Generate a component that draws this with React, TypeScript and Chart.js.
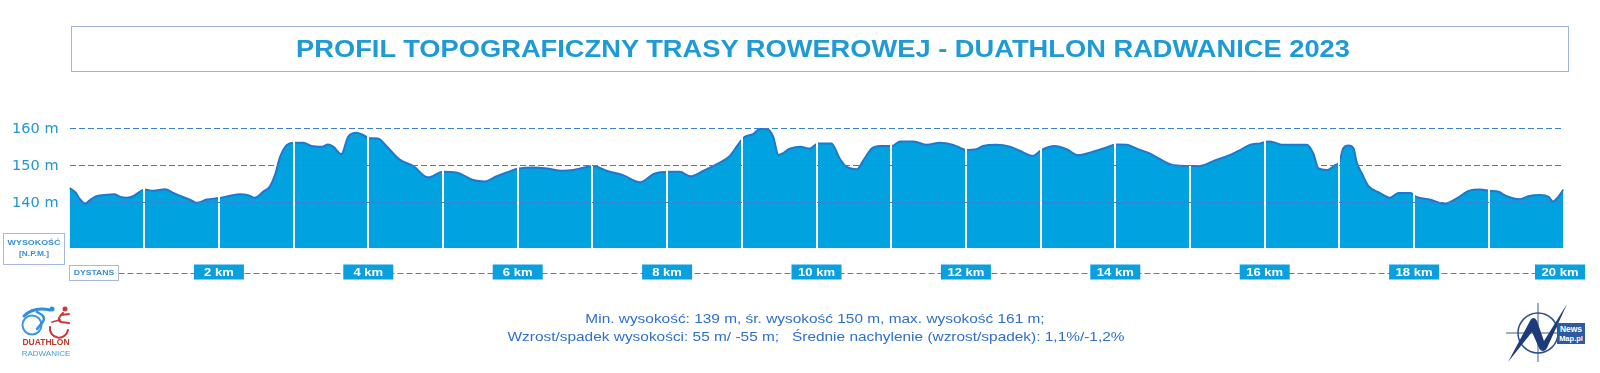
import React, { useEffect, useRef } from 'react';
import { Chart, registerables } from 'chart.js';

Chart.register(...registerables);

// ---------------- DATA ----------------
const distanceKm = [
  0.0, 0.08, 0.14, 0.21, 0.27, 0.36, 0.5, 0.6, 0.68, 0.77, 0.86, 0.94,
  1.0, 1.12, 1.28, 1.39, 1.52, 1.62, 1.7, 1.84,
  2.0, 2.15, 2.28, 2.39, 2.48, 2.59, 2.68, 2.75, 2.82, 2.91,
  3.0, 3.13, 3.24, 3.38, 3.46, 3.53, 3.64, 3.73, 3.84, 3.93,
  4.01, 4.13, 4.25, 4.42, 4.6, 4.8,
  5.0, 5.18, 5.4, 5.56, 5.72, 5.85,
  6.01, 6.21, 6.39, 6.59, 6.74, 6.88,
  7.01, 7.19, 7.41, 7.64, 7.82,
  8.02, 8.17, 8.31, 8.49, 8.66, 8.84, 8.98,
  9.04, 9.15, 9.24, 9.33, 9.42, 9.49, 9.65, 9.78, 9.91,
  10.02, 10.2, 10.31, 10.4, 10.54, 10.63, 10.74, 10.85,
  11.01, 11.12, 11.3, 11.48, 11.65, 11.83,
  12.01, 12.14, 12.23, 12.41, 12.59, 12.72, 12.9,
  13.01, 13.19, 13.35, 13.5, 13.66, 13.84,
  14.02, 14.15, 14.33, 14.46, 14.6, 14.78,
  15.01, 15.13, 15.31, 15.53, 15.67, 15.8, 15.94,
  16.05, 16.14, 16.23, 16.56, 16.65, 16.72, 16.83, 16.94,
  17.0, 17.05, 17.12, 17.19, 17.23, 17.3, 17.39, 17.54, 17.68, 17.79, 17.95,
  18.03, 18.21, 18.41, 18.57, 18.74, 18.88,
  19.01, 19.13, 19.24, 19.42, 19.53, 19.69, 19.8, 19.86, 19.93, 20.0,
];

const elevationM = [
  144.0, 142.8, 141.0, 139.8, 140.7, 141.8, 142.2, 142.3, 141.6, 141.4, 141.9, 143.0,
  143.6, 143.3, 143.7, 142.7, 141.6, 140.8, 140.0, 140.9,
  141.3, 141.9, 142.3, 142.1, 141.4, 143.0, 144.4, 147.5, 152.5, 155.7,
  156.3, 156.3, 155.4, 155.2, 155.8, 155.2, 153.2, 157.9, 159.0, 158.4,
  157.5, 157.4, 155.2, 151.7, 150.0, 146.9,
  148.4, 148.2, 146.2, 145.8, 147.2, 148.2,
  149.3, 149.6, 149.3, 148.7, 148.9, 149.5,
  150.0, 148.7, 147.5, 145.6, 147.8,
  148.4, 148.4, 147.2, 148.7, 150.4, 152.7, 156.6,
  157.9, 158.6, 160.0, 160.0, 157.9, 153.0, 154.7, 155.2, 154.7,
  156.1, 156.1, 152.0, 149.8, 149.1, 151.6, 154.7, 155.4,
  155.4, 156.6, 156.6, 155.7, 156.3, 155.7,
  154.3, 154.5, 155.4, 155.7, 155.2, 154.1, 152.7,
  154.3, 155.4, 154.5, 152.9, 153.6, 154.7,
  155.8, 155.7, 154.3, 153.4, 151.8, 150.2,
  150.0, 150.0, 151.3, 152.9, 154.3, 155.7, 156.1,
  156.6, 156.3, 155.7, 155.7, 153.4, 149.3, 148.9, 150.2,
  151.1, 154.7, 155.5, 154.7, 151.1, 148.0, 144.5, 142.7, 141.4, 142.7, 142.7,
  141.6, 140.9, 139.8, 141.2, 143.3, 143.6,
  143.3, 143.0, 141.8, 141.0, 141.8, 142.1, 141.6, 140.4, 141.6, 143.6,
];

const yTickValues = [140, 150, 160];
const kmGridValues = [1, 2, 3, 4, 5, 6, 7, 8, 9, 10, 11, 12, 13, 14, 15, 16, 17, 18, 19];
const kmLabelValues = [2, 4, 6, 8, 10, 12, 14, 16, 18, 20];
const kmLabelText = ['2 km', '4 km', '6 km', '8 km', '10 km', '12 km', '14 km', '16 km', '18 km', '20 km'];

const titleText = 'PROFIL TOPOGRAFICZNY TRASY ROWEROWEJ - DUATHLON RADWANICE 2023';
const statsLine1 = 'Min. wysokość: 139 m, śr. wysokość 150 m, max. wysokość 161 m;';
const statsLine2 = 'Wzrost/spadek wysokości: 55 m/ -55 m;   Średnie nachylenie (wzrost/spadek): 1,1%/-1,2%';
const heightLabel = ['WYSOKOŚĆ', '[N.P.M.]'];
const distanceLabel = 'DYSTANS';

// ---------------- STYLE ----------------
const STRETCH = 1.186;
const FILL = '#00a2e0';
const LINE = '#1f78cc';
const GRID = '#3d7fd6';
const TITLE_BLUE = '#1e9ad6';
const FOOT_BLUE = '#2f6fcc';
const FONT = '"Liberation Sans", Arial, sans-serif';

const kmBoxesPlugin = {
  id: 'kmBoxes',
  afterDraw(chart: any) {
    const ctx = chart.ctx as CanvasRenderingContext2D;
    const xs = chart.scales.x;
    const lineY = 273.5;
    ctx.save();
    ctx.strokeStyle = '#4a7fd6';
    ctx.lineWidth = 1;
    ctx.setLineDash([6, 3]);
    ctx.beginPath();
    ctx.moveTo(xs.left + 49, lineY);
    ctx.lineTo(xs.right, lineY);
    ctx.stroke();
    ctx.setLineDash([]);
    const w = 50;
    const h = 15;
    const top = 264.5;
    kmLabelValues.forEach((v, i) => {
      const cx = xs.getPixelForValue(v);
      const left = Math.min(cx - w / 2, chart.width - 15 - w);
      ctx.fillStyle = '#0aa0e0';
      ctx.fillRect(left, top, w, h);
      ctx.save();
      ctx.translate(left + w / 2, top + h / 2 + 0.5);
      ctx.scale(STRETCH, 1);
      ctx.fillStyle = '#ffffff';
      ctx.font = `bold 11px ${FONT}`;
      ctx.textAlign = 'center';
      ctx.textBaseline = 'middle';
      ctx.fillText(kmLabelText[i], 0, 0);
      ctx.restore();
    });
    ctx.restore();
  },
};

function SText(props: {
  x: number; y: number; size: number; color: string; bold?: boolean; text: string; sx?: number;
}) {
  const { x, y, size, color, bold, text, sx } = props;
  return (
    <div
      style={{
        position: 'absolute',
        left: x,
        top: y,
        transform: `translate(-50%, -50%) scaleX(${sx ?? STRETCH})`,
        whiteSpace: 'pre',
        fontFamily: FONT,
        fontSize: size,
        fontWeight: bold ? 700 : 400,
        color,
        lineHeight: 1,
      }}
    >
      {text}
    </div>
  );
}

function DuathlonLogo() {
  return (
    <svg
      width={58}
      height={64}
      viewBox="0 0 58 64"
      style={{ position: 'absolute', left: 17, top: 303 }}
    >
      <circle cx={15} cy={22} r={9.5} fill="none" stroke="#3b97e0" strokeWidth={2} />
      <path d="M7 13 C 14 6, 24 5, 33 7" fill="none" stroke="#2e8fe0" strokeWidth={3} strokeLinecap="round" />
      <path d="M20 9 C 26 12, 30 15, 24 21 L 20 26" fill="none" stroke="#2e8fe0" strokeWidth={2.5} strokeLinecap="round" />
      <circle cx={35} cy={6} r={2.5} fill="#2e8fe0" />
      <path d="M33 24 A 9 9 0 0 0 51 27" fill="none" stroke="#c83a3a" strokeWidth={2} strokeLinecap="round" />
      <circle cx={48} cy={6} r={2.5} fill="#c83a3a" />
      <path d="M46 10 C 42 14, 40 17, 44 19 L 52 20" fill="none" stroke="#c83a3a" strokeWidth={2.2} strokeLinecap="round" />
      <path d="M44 12 L 52 11 M 43 17 L 35 19" fill="none" stroke="#c83a3a" strokeWidth={1.8} strokeLinecap="round" />
      <text x={29} y={42} textAnchor="middle" fontFamily={FONT} fontSize={8.5} fontWeight={700} fill="#c0392b">DUATHLON</text>
      <text x={29} y={53} textAnchor="middle" fontFamily={FONT} fontSize={8} fontWeight={400} fill="#3c9be0">RADWANICE</text>
    </svg>
  );
}

function NewsMapLogo() {
  return (
    <svg
      width={88}
      height={66}
      viewBox="0 0 88 66"
      style={{ position: 'absolute', left: 1504, top: 299 }}
    >
      <line x1={2} y1={34} x2={60} y2={34} stroke="#3a5c9a" strokeWidth={1} />
      <line x1={34} y1={4} x2={34} y2={63} stroke="#3a5c9a" strokeWidth={1} />
      <circle cx={34} cy={34} r={20} fill="none" stroke="#2c4f8f" strokeWidth={1.5} />
      <path d="M4 63 L 26 22 C 28 18, 31 18, 33 22 L 40 42 L 63 5 L 43 49 C 41 53, 37 53, 35 49 L 28 33 Z" fill="#1d3a7a" />
      <rect x={53} y={24} width={28} height={21} fill="#2d5aa0" />
      <text x={67} y={33} textAnchor="middle" fontFamily={FONT} fontSize={8.5} fontWeight={700} fill="#ffffff">News</text>
      <text x={67} y={42} textAnchor="middle" fontFamily={FONT} fontSize={7.5} fontWeight={700} fill="#ffffff">Map.pl</text>
    </svg>
  );
}

export default function App() {
  const canvasRef = useRef<HTMLCanvasElement | null>(null);

  useEffect(() => {
    const canvas = canvasRef.current;
    if (!canvas) return;
    const points = distanceKm.map((x, i) => ({ x, y: elevationM[i] }));
    const chart = new Chart(canvas, {
      type: 'line',
      data: {
        datasets: [
          {
            data: points,
            borderColor: LINE,
            borderWidth: 2,
            backgroundColor: FILL,
            fill: 'start',
            pointRadius: 0,
            tension: 0.35,
            cubicInterpolationMode: 'monotone',
          } as any,
        ],
      },
      options: {
        animation: false,
        responsive: false,
        maintainAspectRatio: false,
        layout: { padding: { left: 8, right: 36.5, top: 106.8, bottom: 124.7 } },
        plugins: {
          legend: { display: false },
          tooltip: { enabled: false },
          title: { display: false },
        },
        scales: {
          x: {
            type: 'linear',
            min: 0,
            max: 20,
            border: { display: false },
            ticks: { display: false, stepSize: 1, autoSkip: false },
            grid: {
              z: 1,
              drawTicks: false,
              lineWidth: 2,
              color: (c: any) =>
                c.tick && kmGridValues.includes(c.tick.value) ? '#ffffff' : 'rgba(0,0,0,0)',
            },
            afterFit: (s: any) => {
              s.height = 0;
            },
          } as any,
          y: {
            type: 'linear',
            min: 127.7,
            max: 166,
            border: { display: false, dash: [6, 3] },
            afterBuildTicks: (s: any) => {
              s.ticks = yTickValues.map((v) => ({ value: v }));
            },
            afterFit: (s: any) => {
              s.width = 61.5;
            },
            ticks: {
              padding: 11,
              color: '#2196d3',
              font: { family: '"DejaVu Sans"', size: 14.5 },
              callback: (v: any) => `${v} m`,
            },
            grid: {
              z: 1,
              drawTicks: false,
              color: GRID,
              lineWidth: 1,
              borderDash: [6, 3],
            },
          } as any,
        },
      },
      plugins: [kmBoxesPlugin],
    });
    return () => chart.destroy();
  }, []);

  return (
    <div
      style={{
        position: 'absolute',
        left: 0,
        top: 0,
        width: 1600,
        height: 373,
        background: '#ffffff',
        overflow: 'hidden',
      }}
    >
      <canvas
        ref={canvasRef}
        width={1600}
        height={373}
        style={{ position: 'absolute', left: 0, top: 0, width: 1600, height: 373 }}
      />
      <div
        style={{
          position: 'absolute',
          left: 71,
          top: 26,
          width: 1496,
          height: 44,
          border: '1px solid #9fb3dd',
        }}
      />
      <SText x={822.5} y={49} size={23} bold color={TITLE_BLUE} text={titleText} />

      <div
        style={{
          position: 'absolute',
          left: 3,
          top: 233,
          width: 60,
          height: 30,
          border: '1px solid #a8b8dc',
        }}
      />
      <SText x={33.5} y={242.5} size={8} bold color="#3a8fd2" text={heightLabel[0]} sx={1.11} />
      <SText x={33.5} y={254} size={7.5} bold color="#3a8fd2" text={heightLabel[1]} sx={1.11} />

      <div
        style={{
          position: 'absolute',
          left: 69,
          top: 265,
          width: 48,
          height: 14,
          border: '1px solid #a8b8dc',
          background: '#ffffff',
        }}
      />
      <SText x={93.5} y={272.5} size={8} bold color="#3a8fd2" text={distanceLabel} sx={1.08} />

      <SText x={814.5} y={317.5} size={13} color={FOOT_BLUE} text={statsLine1} />
      <SText x={816} y={336} size={13} color={FOOT_BLUE} text={statsLine2} />

      <DuathlonLogo />
      <NewsMapLogo />
    </div>
  );
}
